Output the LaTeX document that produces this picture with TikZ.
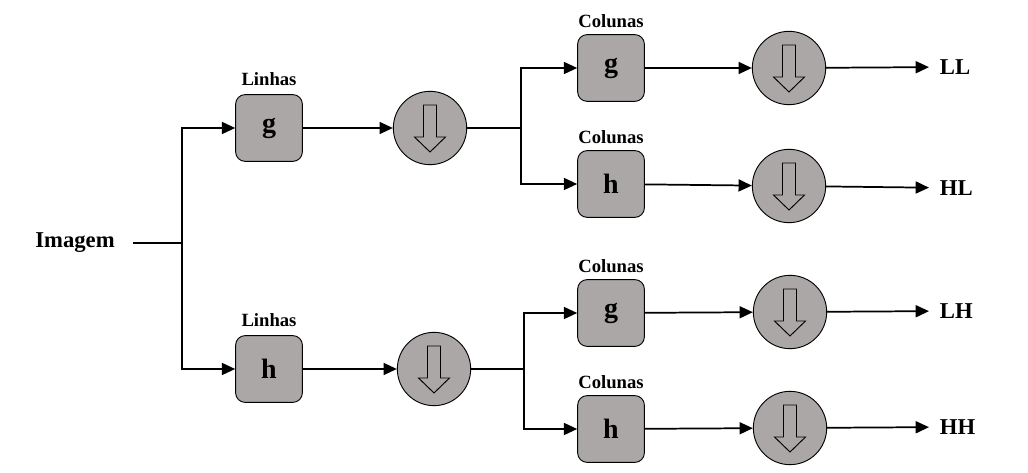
\documentclass[tikz,border=0pt]{standalone}
\usepackage{fontspec}
\setmainfont{Liberation Serif}
\usetikzlibrary{shapes.geometric, arrows.meta, positioning}
\definecolor{cinza}{RGB}{171,167,167}
\tikzstyle{filtro} = [
	rectangle,
	rounded corners=7pt,
	minimum width=50pt,
	minimum height=50pt,
	text centered,
	draw=black,
	line width=0.7pt,
	fill=cinza,
	font=\fontsize{21}{24}\selectfont\bfseries
]
\tikzstyle{reducao} = [
	circle,
	minimum size=55pt,
	draw=black,
	line width=0.7pt,
	fill=cinza
]
\tikzstyle{rotulo} = [
	inner sep=1pt,
	font=\fontsize{14}{16}\selectfont\bfseries
]
\tikzstyle{saida} = [
	anchor=west,
	inner xsep=8pt,
	font=\fontsize{17}{20}\selectfont\bfseries
]
\tikzstyle{linha} = [line width=1.3pt]
\tikzstyle{arrow} = [line width=1.3pt,-{Triangle[length=10pt,width=9pt]}]

\begin{document}
\begin{tikzpicture}[x=0.75pt,y=-0.75pt]
	\useasboundingbox (0,0) rectangle (1028,473);

	\node (img) [font=\fontsize{17}{20}\selectfont\bfseries] at (75,243) {Imagem};
	\coordinate (j0) at (182,243);

	% linhas
	\node (lin1) [filtro] at (269,128) {g};
	\node (lin2) [filtro] at (269,369) {h};
	\node (rl1) [rotulo, above=5pt of lin1] {Linhas};
	\node (rl2) [rotulo, above=5pt of lin2] {Linhas};
	\node (dec1) [reducao] at (430,128) {};
	\node (dec2) [reducao] at (434,369) {};
	\coordinate (j1) at (521,128);
	\coordinate (j2) at (524,369);

	% colunas
	\node (col1) [filtro] at (611,68) {g};
	\node (col2) [filtro] at (611,184) {h};
	\node (col3) [filtro] at (611,313) {g};
	\node (col4) [filtro] at (611,429) {h};
	\node (rc1) [rotulo, above=4pt of col1] {Colunas};
	\node (rc2) [rotulo, above=4pt of col2] {Colunas};
	\node (rc3) [rotulo, above=4pt of col3] {Colunas};
	\node (rc4) [rotulo, above=4pt of col4] {Colunas};
	\node (dec3) [reducao] at (789,68) {};
	\node (dec4) [reducao] at (789,186) {};
	\node (dec5) [reducao] at (790,312) {};
	\node (dec6) [reducao] at (790,428) {};

	% saidas
	\node (out1) [saida] at (929,67) {LL};
	\node (out2) [saida] at (929,188) {HL};
	\node (out3) [saida] at (929,311) {LH};
	\node (out4) [saida] at (929,427) {HH};

	% setas de reducao
	\foreach \c in {dec1,dec2,dec3,dec4,dec5,dec6}
		\draw [fill=cinza, line width=0.7pt, shift={(\c.center)}]
			(-6.5,-23) -- (6.5,-23) -- (6.5,9) -- (15.5,9) -- (0,24)
			-- (-15.5,9) -- (-6.5,9) -- cycle;

	\draw [linha] ([xshift=10pt]img.east) -- (j0);
	\draw [arrow] (j0) |- (lin1);
	\draw [arrow] (j0) |- (lin2);
	\draw [arrow] (lin1) -- (dec1);
	\draw [arrow] (lin2) -- (dec2);
	\draw [linha] (dec1) -- (j1);
	\draw [linha] (dec2) -- (j2);
	\draw [arrow] (j1) |- (col1);
	\draw [arrow] (j1) |- (col2);
	\draw [arrow] (j2) |- (col3);
	\draw [arrow] (j2) |- (col4);
	\draw [arrow] (col1) -- (dec3);
	\draw [arrow] (col2) -- (dec4);
	\draw [arrow] (col3) -- (dec5);
	\draw [arrow] (col4) -- (dec6);
	\draw [arrow] (dec3) -- (out1);
	\draw [arrow] (dec4) -- (out2);
	\draw [arrow] (dec5) -- (out3);
	\draw [arrow] (dec6) -- (out4);
\end{tikzpicture}
\end{document}
